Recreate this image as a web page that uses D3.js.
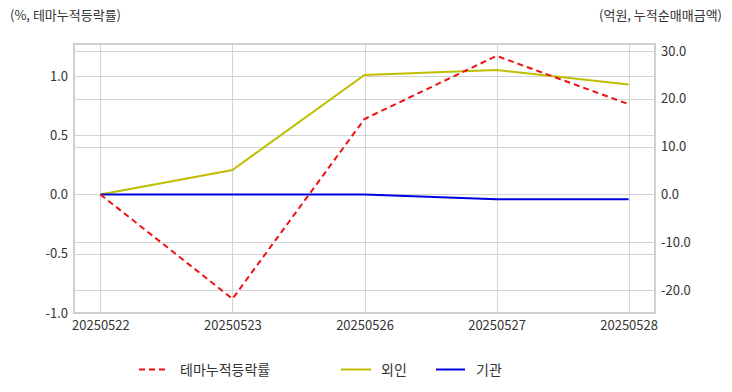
<!DOCTYPE html>
<html><head><meta charset="utf-8">
<script src="https://cdn.jsdelivr.net/npm/d3@7"></script>
<style>body{margin:0;background:#fff}svg{display:block}text{font-family:"Noto Sans CJK KR","Noto Sans",sans-serif}</style>
</head><body><svg id="c" width="732" height="392"></svg>
<script>
const dates = ["20250522","20250523","20250526","20250527","20250528"];
const themeRate = [0, -0.88, 0.637, 1.17, 0.762];
const foreign = [0, 5.1, 25.0, 26.0, 23.0];
const institution = [0, 0, 0, -1.0, -1.0];
const leftTicks = [-1.0, -0.5, 0.0, 0.5, 1.0];
const rightTicks = [-20, -10, 0, 10, 20, 30];
const seriesNames = ["테마누적등락률", "외인", "기관"];

const svg = d3.select("#c");
const L = 74, R = 655, T = 44, B = 313;
const x = d3.scalePoint().domain(dates).range([L, R]).padding(0.2);
const yL = d3.scaleLinear().domain([-1.0, 1.27]).range([B, T]);
const yR = d3.scaleLinear().domain([-24.8, 31.46]).range([B, T]);
const grid = "#d4d4d4";
const fmt = d => d.toFixed(1);

const g = svg.append("g");
g.selectAll(".gl").data(leftTicks).join("line")
  .attr("x1", L).attr("x2", R).attr("y1", d => Math.round(yL(d)) + 0.5).attr("y2", d => Math.round(yL(d)) + 0.5)
  .attr("stroke", grid);
g.selectAll(".gr").data(rightTicks).join("line")
  .attr("x1", L).attr("x2", R).attr("y1", d => Math.round(yR(d)) + 0.5).attr("y2", d => Math.round(yR(d)) + 0.5)
  .attr("stroke", grid);
g.selectAll(".gv").data(dates).join("line")
  .attr("x1", d => Math.round(x(d)) + 0.5).attr("x2", d => Math.round(x(d)) + 0.5).attr("y1", T).attr("y2", B)
  .attr("stroke", grid);
svg.append("rect").attr("x", L).attr("y", T).attr("width", R - L).attr("height", B - T)
  .attr("fill", "none").attr("stroke", "#cfcfcf").attr("stroke-width", 2);

const axL = d3.axisLeft(yL).tickValues(leftTicks).tickFormat(fmt).tickSize(0).tickPadding(6);
const axR = d3.axisRight(yR).tickValues(rightTicks).tickFormat(fmt).tickSize(0).tickPadding(6);
const axB = d3.axisBottom(x).tickSize(0).tickPadding(8);
const styleAx = sel => { sel.select(".domain").remove(); sel.selectAll("text").attr("fill", "#333").style("font-size", "13px"); };
svg.append("g").attr("transform", `translate(${L},0)`).call(axL).call(styleAx);
svg.append("g").attr("transform", `translate(${R},0)`).call(axR).call(styleAx);
svg.append("g").attr("transform", `translate(0,${B})`).call(axB).call(styleAx);

const lineL = d3.line().x((d, i) => x(dates[i])).y(d => yL(d));
const lineR = d3.line().x((d, i) => x(dates[i])).y(d => yR(d));
svg.append("path").datum(foreign).attr("d", lineR).attr("fill", "none").attr("stroke", "#bfbf00").attr("stroke-width", 2);
svg.append("path").datum(institution).attr("d", lineR).attr("fill", "none").attr("stroke", "#0000e0").attr("stroke-width", 2);
svg.append("path").datum(themeRate).attr("d", lineL).attr("fill", "none").attr("stroke", "#ee1111").attr("stroke-width", 2).attr("stroke-dasharray", "6,4");

svg.append("text").attr("x", 10).attr("y", 20).attr("fill", "#333").style("font-size", "13px").text("(%, 테마누적등락률)");
svg.append("text").attr("x", 722).attr("y", 20).attr("text-anchor", "end").attr("fill", "#333").style("font-size", "13px").text("(억원, 누적순매매금액)");

const legend = [
  {name: seriesNames[0], color: "#ee1111", dash: "6,4", x1: 139, x2: 168, tx: 180},
  {name: seriesNames[1], color: "#bfbf00", dash: null, x1: 341, x2: 371, tx: 381},
  {name: seriesNames[2], color: "#0000e0", dash: null, x1: 436, x2: 465, tx: 476}
];
const lg = svg.append("g");
legend.forEach(d => {
  lg.append("line").attr("x1", d.x1).attr("x2", d.x2).attr("y1", 369.5).attr("y2", 369.5)
    .attr("stroke", d.color).attr("stroke-width", 2).attr("stroke-dasharray", d.dash);
  lg.append("text").attr("x", d.tx).attr("y", 374.5).attr("fill", "#333").style("font-size", "14px").text(d.name);
});
</script></body></html>
